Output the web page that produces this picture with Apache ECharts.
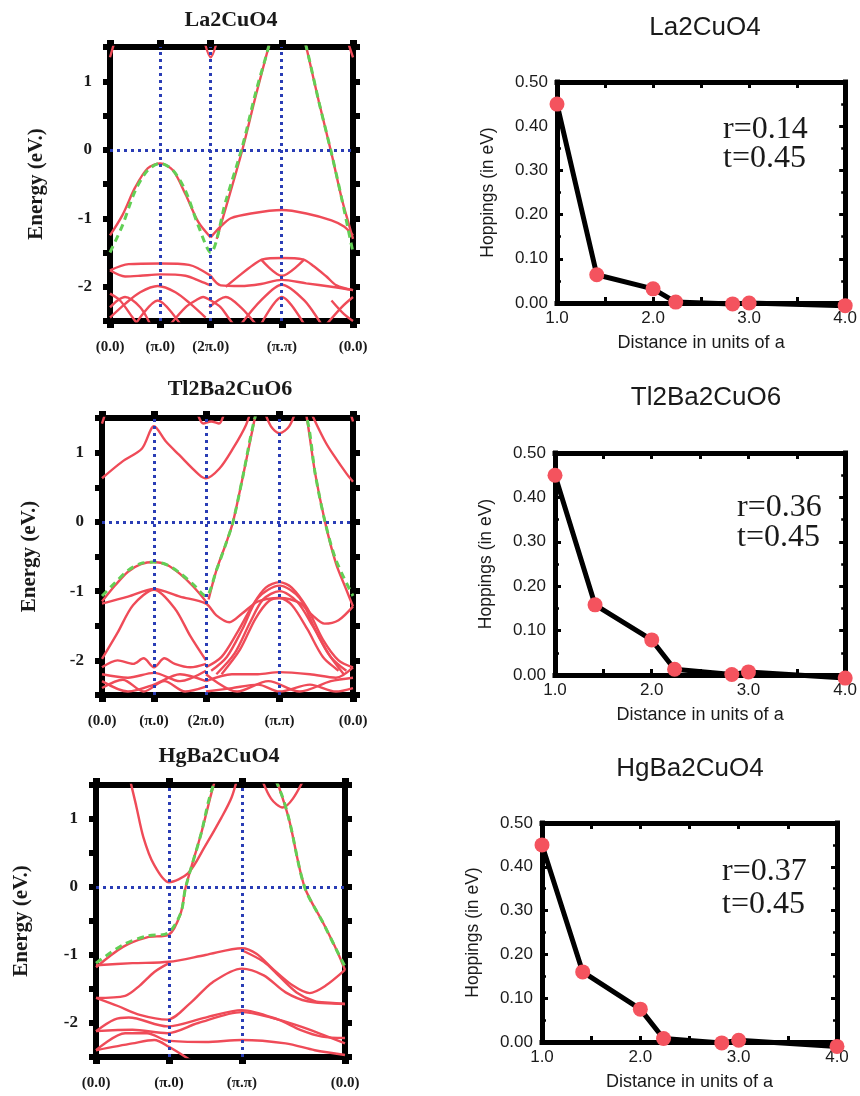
<!DOCTYPE html>
<html>
<head>
<meta charset="utf-8">
<script src="https://cdn.jsdelivr.net/npm/echarts@6/dist/echarts.min.js"></script>
<style>
  html, body { margin: 0; padding: 0; background: #fff; }
  #chart { width: 860px; height: 1096px; }
</style>
</head>
<body>
<div id="chart"></div>
<script>
// ---------- k-path through the Brillouin zone (path length in units of pi/a) ----------
const pathTicks5 = [0, 1, 2, 3.414, 4.828];
const pathLabels5 = ['(0.0)', '(π.0)', '(2π.0)', '(π.π)', '(0.0)'];
const pathTicks4 = [0, 1, 2, 3.414];
const pathLabels4 = ['(0.0)', '(π.0)', '(π.π)', '(0.0)'];

// ---------- La2CuO4: LDA bands [k, E(eV)] ----------
const laLdaBands = [
  [[0,-1.25],[0.25,-0.95],[0.5,-0.55],[0.75,-0.27],[1,-0.2],[1.25,-0.3],[1.5,-0.65],[1.75,-1.05],[2,-1.28]],
  [[2,-1.28],[2.2,-1.12],[2.4,-1.0],[2.8,-0.93],[3.414,-0.88],[3.9,-0.93],[4.4,-1.03],[4.65,-1.12],[4.828,-1.25]],
  [[2.12,-1.3],[2.3,-0.85],[2.63,0],[2.9,0.8],[3.15,1.5],[3.3,1.95]],
  [[3.75,1.95],[3.9,1.5],[4.15,0.7],[4.4,-0.05],[4.6,-0.7],[4.75,-1.1],[4.828,-1.3]],
  [[0,1.35],[0.12,1.65]],
  [[1.85,1.65],[2,1.35],[2.15,1.65]],
  [[4.69,1.65],[4.828,1.35]],
  [[0,-1.76],[0.37,-1.67],[1,-1.66],[1.57,-1.68],[2,-1.84]],
  [[0,-1.76],[0.3,-1.85],[0.6,-1.84],[1,-1.82],[1.5,-1.84],[1.8,-1.92],[2,-1.98]],
  [[0,-2.45],[0.3,-2.25],[0.6,-2.08],[0.95,-1.99],[1.3,-2.08],[1.6,-2.25],[1.9,-2.45]],
  [[0,-2.1],[0.2,-2.2],[0.45,-2.45],[0.55,-2.55]],
  [[0,-2.3],[0.15,-2.2],[0.3,-2.15],[0.6,-2.3],[0.8,-2.55]],
  [[1.2,-2.55],[1.5,-2.3],[1.7,-2.2],[1.85,-2.15],[2,-2.2],[2.2,-2.3],[2.35,-2.45],[2.45,-2.55]],
  [[0.5,-2.55],[0.95,-2.2],[1.4,-2.55]],
  [[2,-1.84],[2.2,-1.98],[2.6,-1.99],[3.0,-1.96],[3.414,-1.9],[3.9,-1.95],[4.4,-2.0],[4.828,-2.05]],
  [[2.3,-2.0],[2.6,-1.82],[2.85,-1.68],[3.03,-1.6],[3.414,-1.58],[3.83,-1.6],[4.05,-1.7],[4.3,-1.85],[4.5,-1.98],[4.828,-2.05]],
  [[3.0,-1.6],[3.414,-1.84],[3.86,-1.6]],
  [[2.6,-2.55],[3.0,-2.2],[3.414,-1.97],[3.86,-2.2],[4.2,-2.55]],
  [[3.0,-2.55],[3.414,-2.15],[3.86,-2.55]],
  [[4.3,-2.55],[4.6,-2.3],[4.828,-2.15]],
  [[4.4,-2.2],[4.65,-2.4],[4.828,-2.5]],
  [[1.97,-2.3],[2.3,-2.15],[2.6,-2.3],[2.9,-2.55]]
];
// La2CuO4: tight-binding fit
const laFitBands = [
  [[0,-1.5],[0.25,-1.1],[0.5,-0.6],[0.75,-0.3],[1,-0.2],[1.25,-0.3],[1.5,-0.6],[1.75,-1.1],[2,-1.5],[2.3,-0.75],[2.63,0.05],[2.9,0.85],[3.15,1.5],[3.414,2.3],[3.7,2.0],[3.9,1.5],[4.15,0.7],[4.4,-0.05],[4.6,-0.7],[4.828,-1.5]]
];

// ---------- Tl2Ba2CuO6: LDA bands ----------
const tlLdaBands = [
  [[0,0.63],[0.39,0.87],[0.77,1.06],[1,1.38],[1.23,1.16],[1.48,0.97],[1.87,0.68],[2,0.63],[2.26,0.77],[2.52,1.06],[2.77,1.4],[2.9,1.7]],
  [[3.95,1.7],[4.1,1.45],[4.3,1.15],[4.45,0.97],[4.7,0.7],[4.828,0.58]],
  [[3.1,1.65],[3.25,1.38],[3.414,1.28],[3.6,1.38],[3.75,1.65]],
  [[1.8,1.65],[1.95,1.42],[2.1,1.45],[2.25,1.42],[2.38,1.65]],
  [[0,1.42],[0.1,1.65]],
  [[4.75,1.65],[4.828,1.45]],
  [[0,-1.15],[0.25,-0.92],[0.5,-0.72],[0.75,-0.61],[1,-0.58],[1.25,-0.62],[1.5,-0.75],[1.75,-0.93],[2,-1.15]],
  [[2.05,-1.12],[2.2,-0.7],[2.4,-0.28],[2.52,0],[2.7,0.62],[2.94,1.5],[3.1,2.1]],
  [[3.8,2.0],[3.94,1.5],[4.1,0.7],[4.29,0],[4.5,-0.6],[4.7,-0.98],[4.828,-1.22]],
  [[0,-1.18],[0.5,-1.08],[1,-0.97],[1.5,-1.08],[2,-1.18],[2.2,-1.35],[2.45,-1.45],[2.7,-1.32],[3.0,-1.15],[3.414,-1.1],[3.8,-1.17],[4.05,-1.35],[4.28,-1.47],[4.55,-1.42],[4.828,-1.22]],
  [[0,-1.98],[0.3,-1.6],[0.6,-1.2],[1,-0.98],[1.4,-1.25],[1.7,-1.65],[2,-2.0]],
  [[2.0,-2.1],[2.3,-1.95],[2.6,-1.6],[2.9,-1.2],[3.15,-0.95],[3.414,-0.87],[3.65,-0.95],[3.95,-1.25],[4.25,-1.7],[4.55,-2.0],[4.828,-2.1]],
  [[2.1,-2.15],[2.4,-1.95],[2.7,-1.55],[3.0,-1.1],[3.414,-0.92],[3.8,-1.1],[4.1,-1.55],[4.4,-1.95],[4.7,-2.15]],
  [[2.2,-2.2],[2.55,-1.9],[2.85,-1.45],[3.1,-1.12],[3.414,-1.0],[3.75,-1.15],[4.05,-1.5],[4.35,-1.9],[4.65,-2.2]],
  [[2.3,-2.2],[2.65,-1.85],[2.95,-1.4],[3.2,-1.15],[3.414,-1.1],[3.65,-1.2],[3.95,-1.55],[4.25,-1.95],[4.55,-2.15]],
  [[0,-2.1],[0.3,-2.0],[0.6,-2.05],[0.8,-1.97],[1,-2.1],[1.2,-1.97],[1.4,-2.05],[1.7,-2.1],[2,-2.05]],
  [[0,-2.2],[0.5,-2.25],[1,-2.18],[1.5,-2.3],[2,-2.15]],
  [[0,-2.4],[0.4,-2.28],[0.8,-2.45],[1.2,-2.3],[1.6,-2.45],[2,-2.38]],
  [[0,-2.3],[0.5,-2.45],[1,-2.35],[1.5,-2.2],[2,-2.3]],
  [[2,-2.3],[2.5,-2.2],[3,-2.2],[3.414,-2.17],[4,-2.2],[4.5,-2.25],[4.828,-2.1]],
  [[2,-2.45],[2.5,-2.4],[3,-2.35],[3.414,-2.45],[4,-2.35],[4.5,-2.45],[4.828,-2.4]],
  [[2,-2.2],[2.6,-2.45],[3.2,-2.3],[3.8,-2.45],[4.4,-2.3],[4.828,-2.25]]
];
const tlFitBands = [
  [[0,-1.07],[0.25,-0.88],[0.5,-0.7],[0.75,-0.6],[1,-0.58],[1.25,-0.62],[1.5,-0.74],[1.75,-0.9],[2,-1.07],[2.2,-0.7],[2.4,-0.28],[2.52,0],[2.7,0.62],[2.94,1.5],[3.414,2.7],[3.94,1.5],[4.1,0.7],[4.29,0],[4.5,-0.55],[4.828,-1.07]]
];

// ---------- HgBa2CuO4: LDA bands ----------
const hgLdaBands = [
  [[0.45,1.65],[0.55,1.2],[0.65,0.73],[0.79,0.34],[1,0.07],[1.26,0.2],[1.49,0.59],[1.72,1.02],[1.86,1.32],[1.95,1.65]],
  [[2.25,1.65],[2.4,1.3],[2.56,1.17],[2.7,1.3],[2.88,1.65]],
  [[0,-1.18],[0.37,-0.88],[0.7,-0.74],[1,-0.7],[1.16,-0.39],[1.23,0],[1.44,0.78],[1.6,1.45],[1.7,1.8]],
  [[2.4,1.8],[2.53,1.4],[2.65,0.98],[2.86,0],[3.12,-0.54],[3.3,-0.93],[3.414,-1.22]],
  [[0,-1.15],[0.5,-1.12],[1,-1.1],[1.5,-1.0],[2,-0.9],[2.2,-0.98],[2.42,-1.2],[2.7,-1.45],[2.93,-1.56],[3.15,-1.45],[3.414,-1.22]],
  [[2,-0.93],[2.3,-1.1],[2.5,-1.3],[2.75,-1.55],[3.0,-1.68],[3.2,-1.7],[3.414,-1.72]],
  [[0,-1.63],[0.4,-1.6],[0.6,-1.45],[0.8,-1.25],[1,-1.12]],
  [[0,-1.63],[0.3,-1.75],[0.6,-1.88],[0.98,-1.95],[1.3,-1.7],[1.6,-1.4],[2,-1.2],[2.3,-1.3],[2.6,-1.55],[2.9,-1.68],[3.414,-1.72]],
  [[0,-2.12],[0.25,-1.95],[0.45,-1.92],[0.98,-2.05],[1.5,-1.92],[2,-1.81],[2.5,-1.95],[2.8,-2.1],[3.1,-2.2],[3.414,-2.22]],
  [[0,-2.12],[0.5,-2.1],[0.98,-2.15],[1.4,-2.0],[2,-1.84],[2.4,-1.92],[2.8,-2.05],[3.414,-2.3]],
  [[0,-2.4],[0.4,-2.15],[0.7,-2.15],[0.98,-2.26],[1.5,-2.28],[2,-2.25],[2.6,-2.3],[3.0,-2.4],[3.414,-2.47]],
  [[0,-2.4],[0.5,-2.3],[0.8,-2.25],[1.0,-2.35],[1.3,-2.55]]
];
const hgFitBands = [
  [[0,-1.12],[0.37,-0.85],[0.7,-0.72],[0.98,-0.68],[1.16,-0.39],[1.23,0],[1.44,0.78],[1.58,1.4],[2,2.6],[2.53,1.4],[2.65,0.98],[2.86,0],[3.12,-0.54],[3.3,-0.93],[3.414,-1.17]]
];

// ---------- hopping integrals vs. distance ----------
const hopDistance = [1.0, 1.414, 2.0, 2.236, 2.828, 3.0, 4.0];
const laHop = [0.45, 0.064, 0.032, 0.002, -0.002, 0.0, -0.006];
const tlHop = [0.45, 0.158, 0.079, 0.013, 0.001, 0.007, -0.007];
const hgHop = [0.45, 0.16, 0.075, 0.008, -0.002, 0.004, -0.01];
const laR = 0.14, tlR = 0.36, hgR = 0.37;

// ---------- styling ----------
const SERIF = '"Liberation Serif", "DejaVu Serif", serif';
const SANS = '"Liberation Sans", Arial, sans-serif';
const RED = '#ef4b58';
const GREEN = '#62cf55';
const BLUE = '#2a3db5';
const MARKER = '#f4535e';

const bandPanels = [
  { title: 'La2CuO4', lda: laLdaBands, fit: laFitBands, ticks: pathTicks5, labels: pathLabels5,
    rect: { left: 110, top: 47, width: 243, height: 274 }, nameGap: 63, titlePos: [231, 20] },
  { title: 'Tl2Ba2CuO6', lda: tlLdaBands, fit: tlFitBands, ticks: pathTicks5, labels: pathLabels5,
    rect: { left: 102, top: 418, width: 251, height: 277 }, nameGap: 62, titlePos: [230, 389] },
  { title: 'HgBa2CuO4', lda: hgLdaBands, fit: hgFitBands, ticks: pathTicks4, labels: pathLabels4,
    rect: { left: 96, top: 785, width: 249, height: 272 }, nameGap: 64, titlePos: [219, 756] }
];

const hopPanels = [
  { title: 'La2CuO4', hop: laHop, r: laR, rect: { left: 557, top: 82, width: 290, height: 221 },
    titlePos: [705, 28], textPos: [723, 130, 159] },
  { title: 'Tl2Ba2CuO6', hop: tlHop, r: tlR, rect: { left: 555, top: 453, width: 292, height: 222 },
    titlePos: [706, 398], textPos: [737, 508, 538] },
  { title: 'HgBa2CuO4', hop: hgHop, r: hgR, rect: { left: 542, top: 823, width: 295, height: 219 },
    titlePos: [690, 769], textPos: [722, 872, 905] }
];

const grid = [], xAxis = [], yAxis = [], series = [], graphic = [];

function frameLine(w) {
  return { show: true, onZero: false, lineStyle: { color: '#000', width: w, cap: 'square' } };
}
function isWhole(v) { return Math.abs(v - Math.round(v)) < 1e-6; }

// band-structure panels
bandPanels.forEach(p => {
  const gi = grid.length;
  grid.push(Object.assign({ containLabel: false }, p.rect));
  const end = p.ticks[p.ticks.length - 1];
  const labelFor = v => {
    const i = p.ticks.findIndex(t => Math.abs(t - v) < 1e-3);
    return i >= 0 ? p.labels[i] : '';
  };
  const xi = xAxis.length;
  xAxis.push({
    gridIndex: gi, type: 'value', min: 0, max: end, position: 'bottom',
    axisLine: frameLine(6),
    axisTick: { show: true, customValues: p.ticks, length: 7, lineStyle: { color: '#000', width: 7 } },
    axisLabel: { show: true, customValues: p.ticks, formatter: labelFor, margin: 19,
      fontFamily: SERIF, fontWeight: 'bold', fontSize: 15, color: '#1a1a1a' },
    splitLine: { show: false }
  });
  xAxis.push({
    gridIndex: gi, type: 'value', min: 0, max: end, position: 'top',
    axisLine: frameLine(6),
    axisTick: { show: true, customValues: p.ticks, length: 7, lineStyle: { color: '#000', width: 7 } },
    axisLabel: { show: false }, splitLine: { show: false }
  });
  const yi = yAxis.length;
  yAxis.push({
    gridIndex: gi, type: 'value', min: -2.5, max: 1.5, interval: 0.5, position: 'left',
    axisLine: frameLine(6),
    axisTick: { show: true, length: 7, lineStyle: { color: '#000', width: 6 } },
    axisLabel: { formatter: v => isWhole(v) ? String(Math.round(v)) : '', margin: 18,
      fontFamily: SERIF, fontWeight: 'bold', fontSize: 17, color: '#1a1a1a' },
    splitLine: { show: false },
    name: 'Energy (eV.)', nameLocation: 'middle', nameGap: p.nameGap, nameRotate: 90,
    nameTextStyle: { fontFamily: SERIF, fontWeight: 'bold', fontSize: 21, color: '#1a1a1a' }
  });
  yAxis.push({
    gridIndex: gi, type: 'value', min: -2.5, max: 1.5, interval: 0.5, position: 'right',
    axisLine: frameLine(6),
    axisTick: { show: true, length: 7, lineStyle: { color: '#000', width: 6 } },
    axisLabel: { show: false }, splitLine: { show: false }
  });

  // symmetry-point guides and Fermi level
  const guides = p.ticks.slice(1, -1).map(t => ({ xAxis: t }));
  guides.push({ yAxis: 0 });
  series.push({
    type: 'line', xAxisIndex: xi, yAxisIndex: yi, data: [[0, 0]], silent: true, z: 1,
    showSymbol: false, lineStyle: { opacity: 0 },
    markLine: { silent: true, symbol: ['none', 'none'], label: { show: false }, animation: false,
      lineStyle: { color: BLUE, type: [3, 4], width: 3, cap: 'butt' }, data: guides }
  });
  p.lda.forEach(band => {
    series.push({
      type: 'line', xAxisIndex: xi, yAxisIndex: yi, data: band, silent: true, z: 3,
      showSymbol: false, smooth: 0.3, clip: true,
      lineStyle: { color: RED, width: 2.4 }
    });
  });
  p.fit.forEach(band => {
    series.push({
      type: 'line', xAxisIndex: xi, yAxisIndex: yi, data: band, silent: true, z: 4,
      showSymbol: false, smooth: 0.3, clip: true,
      lineStyle: { color: GREEN, width: 3, type: [7, 5] }
    });
  });
  graphic.push({
    type: 'text', x: p.titlePos[0], y: p.titlePos[1],
    style: { text: p.title, font: 'bold 22px ' + SERIF, fill: '#1a1a1a', align: 'center', verticalAlign: 'middle' }
  });
});

// hopping panels
hopPanels.forEach(p => {
  const gi = grid.length;
  grid.push(Object.assign({ containLabel: false }, p.rect));
  const xi = xAxis.length;
  const tickStyle = { show: true, inside: true, length: 6, lineStyle: { color: '#000', width: 3 } };
  xAxis.push({
    gridIndex: gi, type: 'value', min: 1, max: 4, interval: 0.5, position: 'bottom',
    axisLine: frameLine(5), axisTick: tickStyle,
    axisLabel: { formatter: v => isWhole(v) ? v.toFixed(1) : '', margin: 7,
      fontFamily: SANS, fontSize: 17, color: '#1a1a1a' },
    splitLine: { show: false },
    name: 'Distance in units of a', nameLocation: 'middle', nameGap: 31,
    nameTextStyle: { fontFamily: SANS, fontSize: 18, color: '#1a1a1a' }
  });
  xAxis.push({
    gridIndex: gi, type: 'value', min: 1, max: 4, interval: 0.5, position: 'top',
    axisLine: frameLine(5), axisTick: tickStyle, axisLabel: { show: false }, splitLine: { show: false }
  });
  const yi = yAxis.length;
  const minor = { show: true, splitNumber: 2, length: 4, lineStyle: { color: '#000', width: 2.5 } };
  yAxis.push({
    gridIndex: gi, type: 'value', min: 0, max: 0.5, interval: 0.1, position: 'left',
    axisLine: frameLine(5), axisTick: tickStyle, minorTick: minor,
    axisLabel: { formatter: v => v.toFixed(2), margin: 9, fontFamily: SANS, fontSize: 17, color: '#1a1a1a' },
    splitLine: { show: false }, minorSplitLine: { show: false },
    name: 'Hoppings (in eV)', nameLocation: 'middle', nameGap: 60, nameRotate: 90,
    nameTextStyle: { fontFamily: SANS, fontSize: 17.5, color: '#1a1a1a' }
  });
  yAxis.push({
    gridIndex: gi, type: 'value', min: 0, max: 0.5, interval: 0.1, position: 'right',
    axisLine: frameLine(5), axisTick: tickStyle, minorTick: minor,
    axisLabel: { show: false }, splitLine: { show: false }, minorSplitLine: { show: false }
  });
  series.push({
    type: 'line', xAxisIndex: xi, yAxisIndex: yi,
    data: hopDistance.map((d, i) => [d, p.hop[i]]),
    silent: true, clip: false, z: 5,
    symbol: 'circle', symbolSize: 15,
    lineStyle: { color: '#000', width: 5 },
    itemStyle: { color: MARKER }
  });
  graphic.push({
    type: 'text', x: p.titlePos[0], y: p.titlePos[1],
    style: { text: p.title, font: '26px ' + SANS, fill: '#1a1a1a', align: 'center', verticalAlign: 'middle' }
  });
  graphic.push({
    type: 'text', x: p.textPos[0], y: p.textPos[1],
    style: { text: 'r=' + p.r.toFixed(2), font: '32px ' + SERIF, fill: '#1a1a1a', align: 'left', verticalAlign: 'middle' }
  });
  graphic.push({
    type: 'text', x: p.textPos[0], y: p.textPos[2],
    style: { text: 't=' + p.hop[0].toFixed(2), font: '32px ' + SERIF, fill: '#1a1a1a', align: 'left', verticalAlign: 'middle' }
  });
});

const chart = echarts.init(document.getElementById('chart'), null, { renderer: 'canvas' });
chart.setOption({
  animation: false,
  backgroundColor: '#ffffff',
  grid, xAxis, yAxis, series, graphic
});
</script>
</body>
</html>
